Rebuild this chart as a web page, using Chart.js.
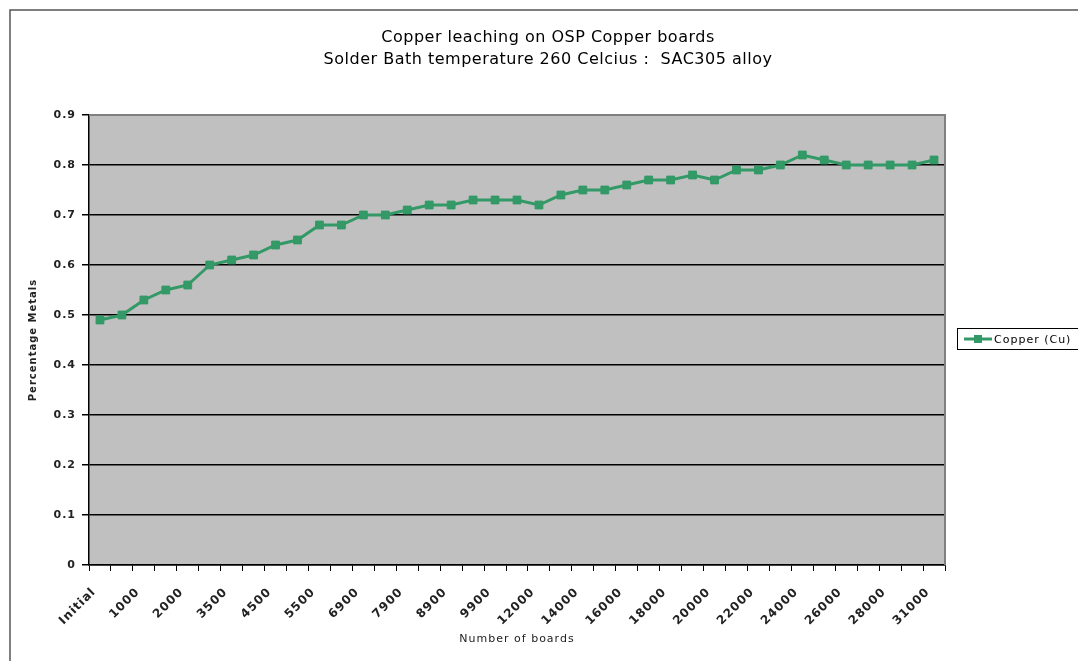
<!DOCTYPE html>
<html>
<head>
<meta charset="utf-8">
<script src="https://cdn.jsdelivr.net/npm/chart.js@4/dist/chart.umd.min.js"></script>
<style>
  html, body { margin: 0; padding: 0; background: #fff; }
  canvas { display: block; }
</style>
</head>
<body>
<canvas id="chart" width="1078" height="661"></canvas>
<script>
// values
const chartTitle = ['Copper leaching on OSP Copper boards', 'Solder Bath temperature 260 Celcius :  SAC305 alloy'];
const tickLabels = ['Initial', '1000', '2000', '3500', '4500', '5500', '6900', '7900', '8900', '9900',
  '12000', '14000', '16000', '18000', '20000', '22000', '24000', '26000', '28000', '31000'];
const copperValues = [0.49, 0.50, 0.53, 0.55, 0.56, 0.60, 0.61, 0.62, 0.64, 0.65,
  0.68, 0.68, 0.70, 0.70, 0.71, 0.72, 0.72, 0.73, 0.73, 0.73,
  0.72, 0.74, 0.75, 0.75, 0.76, 0.77, 0.77, 0.78, 0.77, 0.79,
  0.79, 0.80, 0.82, 0.81, 0.80, 0.80, 0.80, 0.80, 0.81];
const seriesName = 'Copper (Cu)';

// only every other category carries a label in the original
const categories = copperValues.map((v, i) => (i % 2 === 0 ? tickLabels[i / 2] : ''));

const green = '#339966';
const fontFamily = '"DejaVu Sans", sans-serif';

// background, frame, plot area fill
const backdrop = {
  id: 'backdrop',
  beforeDraw(chart) {
    const { ctx, chartArea: a } = chart;
    ctx.save();
    ctx.fillStyle = '#fff';
    ctx.fillRect(0, 0, chart.width, chart.height);
    ctx.strokeStyle = '#555';
    ctx.lineWidth = 1.5;
    ctx.strokeRect(10, 10, chart.width + 20, chart.height + 20);
    ctx.fillStyle = '#c0c0c0';
    ctx.fillRect(a.left, a.top, a.right - a.left, a.bottom - a.top);
    ctx.restore();
    ctx.letterSpacing = '1px';
  },
  beforeDatasetsDraw(chart) {
    const { ctx, chartArea: a } = chart;
    ctx.save();
    ctx.strokeStyle = '#808080';
    ctx.lineWidth = 2;
    ctx.beginPath();
    ctx.moveTo(a.left, a.top);
    ctx.lineTo(a.right, a.top);
    ctx.lineTo(a.right, a.bottom);
    ctx.stroke();
    ctx.restore();
  }
};

// two-line title and the boxed legend of the original
const titleAndLegend = {
  id: 'titleAndLegend',
  afterDraw(chart) {
    const { ctx } = chart;
    ctx.save();
    ctx.letterSpacing = '0.5px';
    ctx.fillStyle = '#000';
    ctx.textAlign = 'center';
    ctx.textBaseline = 'middle';
    ctx.font = '16px ' + fontFamily;
    chartTitle.forEach((line, i) => ctx.fillText(line, 548, 38 + i * 22));

    // legend
    ctx.strokeStyle = '#000';
    ctx.lineWidth = 1;
    ctx.strokeRect(957.5, 328.5, 140, 21);
    ctx.strokeStyle = green;
    ctx.lineWidth = 3;
    ctx.beginPath();
    ctx.moveTo(964, 339);
    ctx.lineTo(992, 339);
    ctx.stroke();
    ctx.fillStyle = green;
    ctx.fillRect(974, 335, 8, 8);
    ctx.fillStyle = '#000';
    ctx.textAlign = 'left';
    ctx.letterSpacing = '1px';
    ctx.font = '11px ' + fontFamily;
    ctx.fillText(chart.data.datasets[0].label, 994, 340);
    ctx.restore();
  }
};

new Chart(document.getElementById('chart'), {
  type: 'line',
  data: {
    labels: categories,
    datasets: [{
      label: seriesName,
      data: copperValues,
      borderColor: green,
      backgroundColor: green,
      borderWidth: 3,
      pointStyle: 'rect',
      pointRadius: 5.5,
      pointBorderWidth: 1,
      pointBorderColor: green,
      pointBackgroundColor: green,
      tension: 0
    }]
  },
  options: {
    responsive: false,
    animation: false,
    layout: { padding: { left: 18, right: 133, top: 115, bottom: 0 } },
    plugins: {
      legend: { display: false },
      title: { display: false },
      tooltip: { enabled: false }
    },
    scales: {
      x: {
        offset: true,
        grid: { offset: true, drawOnChartArea: false, color: '#000', tickLength: 6, lineWidth: 1 },
        border: { color: '#000', width: 1.5 },
        ticks: {
          autoSkip: false,
          minRotation: 45,
          maxRotation: 45,
          padding: 14,
          labelOffset: -6,
          color: '#222',
          font: { family: fontFamily, size: 12, weight: 'bold' }
        },
        title: {
          display: true,
          text: 'Number of boards',
          color: '#222',
          font: { family: fontFamily, size: 11 },
          padding: { top: 0, bottom: 15 }
        },
        afterFit: (scale) => { scale.height = 96; }
      },
      y: {
        min: 0,
        max: 0.9,
        ticks: {
          stepSize: 0.1,
          padding: 6,
          color: '#222',
          font: { family: fontFamily, size: 11, weight: 'bold' }
        },
        grid: {
          color: (c) => (c.tick && c.tick.value >= 0.9 ? '#808080' : '#000'),
          tickColor: '#000',
          lineWidth: 1.5,
          tickLength: 7
        },
        border: { color: '#000', width: 1.5 },
        title: {
          display: true,
          text: 'Percentage Metals',
          color: '#222',
          font: { family: fontFamily, size: 10, weight: 'bold' },
          padding: { top: 9, bottom: 0 }
        },
        afterFit: (scale) => { scale.width = 71; }
      }
    }
  },
  plugins: [backdrop, titleAndLegend]
});
</script>
</body>
</html>
